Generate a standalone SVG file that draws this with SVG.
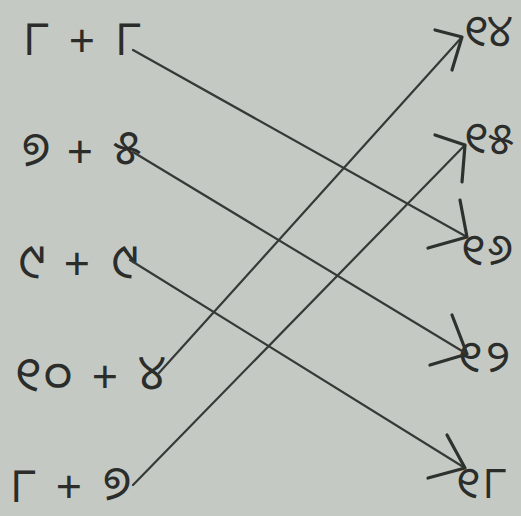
<svg xmlns="http://www.w3.org/2000/svg" width="521" height="516" viewBox="0 0 521 516">
<defs>
<style>
.bg{fill:#c5c9c3}
.t{font-family:"Noto Sans Oriya","Noto Sans","DejaVu Sans",sans-serif;font-size:48px;fill:#2b2d2b;text-anchor:middle}
.r{font-size:44px}
.p{font-family:"Noto Sans","DejaVu Sans",sans-serif;font-size:46px;fill:#2b2d2b;text-anchor:middle}
.ln{stroke:#363a37;stroke-width:2.2;fill:none;stroke-linecap:round}
.ah{stroke:#2e322f;stroke-width:3.2;fill:none;stroke-linecap:round;stroke-linejoin:round}
</style>
</defs>
<rect class="bg" x="0" y="0" width="521" height="516"/>
<g id="left1"><text class="t" x="36" y="55">୮</text><text class="p" x="82" y="57">+</text><text class="t" x="128" y="55">୮</text></g>
<g id="left2"><text class="t" x="36" y="166">୭</text><text class="p" x="80" y="168">+</text><text class="t" x="127" y="164">୫</text></g>
<g id="left3"><text class="t" x="32" y="278">୯</text><text class="p" x="77" y="280">+</text><text class="t" x="125" y="278">୯</text></g>
<g id="left4"><text class="t" x="28" y="391">୧</text><text class="t" x="58" y="391">୦</text><text class="p" x="105" y="393">+</text><text class="t" x="152" y="389">୪</text></g>
<g id="left5"><text class="t" x="23" y="502">୮</text><text class="p" x="69" y="503">+</text><text class="t" x="117" y="500">୭</text></g>
<g id="right1"><text class="t r" x="476" y="46">୧</text><text class="t r" x="500" y="46">୪</text></g>
<g id="right2"><text class="t r" x="476" y="153">୧</text><text class="t r" x="501" y="154">୫</text></g>
<g id="right3"><text class="t r" x="473" y="265">୧</text><text class="t r" x="500" y="265">୬</text></g>
<g id="right4"><text class="t r" x="470" y="372">୧</text><text class="t r" x="498" y="372">୨</text></g>
<g id="right5"><text class="t r" x="468" y="498">୧</text><text class="t r" x="495" y="498">୮</text></g>
<g id="connectors">
<path class="ln" d="M133,50 L467,237"/>
<path class="ah" d="M460,200 L467,237 L428,248"/>
<path class="ln" d="M133,152 L467,354"/>
<path class="ah" d="M452,315 L467,354 L430,365"/>
<path class="ln" d="M130,260 L465,468"/>
<path class="ah" d="M447,435 L465,468 L428,478"/>
<path class="ln" d="M158,374 L462,37"/>
<path class="ah" d="M435,30 L462,37 L452,70"/>
<path class="ln" d="M133,485 L465,145"/>
<path class="ah" d="M435,135 L465,145 L462,182"/>
</g>
</svg>
